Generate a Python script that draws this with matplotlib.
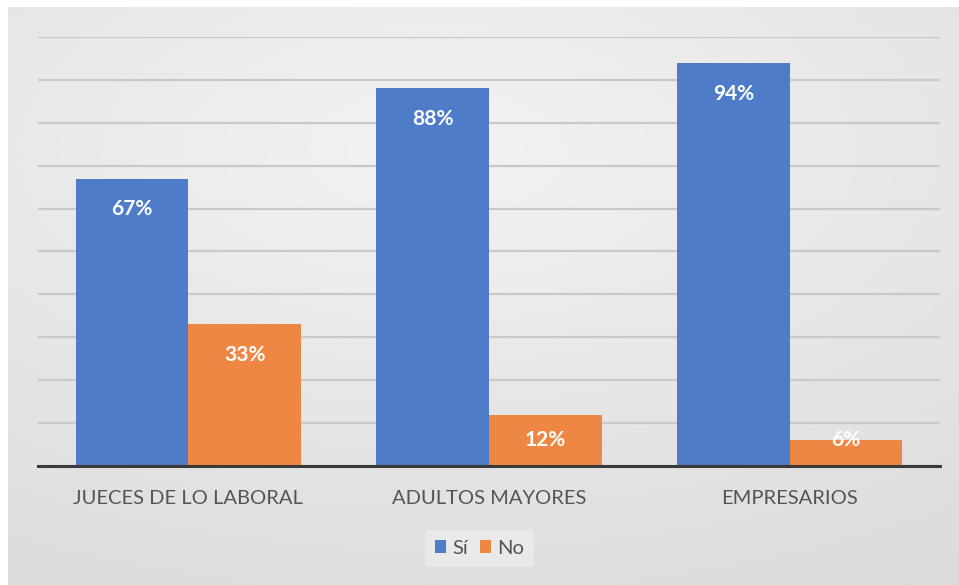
import numpy as np
import matplotlib
matplotlib.use("Agg")
import matplotlib.pyplot as plt

plt.rcParams['font.family'] = ['Lato', 'DejaVu Sans']

# data
categories = ["JUECES DE LO LABORAL", "ADULTOS MAYORES", "EMPRESARIOS"]
si_values = [67, 88, 94]
no_values = [33, 12, 6]
series_names = ["Sí", "No"]

blue = "#4f7cc9"
orange = "#ee8743"

fig = plt.figure(figsize=(9.59, 5.85), dpi=100)
fig.patch.set_facecolor("white")

# soft gray backdrop like the screenshot
bg = fig.add_axes([0.008, 0.0, 0.992, 0.988])
yy, xx = np.mgrid[0:1:200j, 0:1:300j]
shade = 0.95 - 0.09 * np.sqrt(((xx - 0.45) * 1.0) ** 2 + ((yy - 0.25) * 1.2) ** 2)
bg.imshow(shade, cmap="gray", vmin=0, vmax=1, aspect="auto", extent=[0, 1, 0, 1])
bg.axis("off")

ax = fig.add_axes([0.0396, 0.2034, 0.9406, 0.7334])
ax.patch.set_alpha(0)

x = np.arange(len(categories))
w = 0.375
b1 = ax.bar(x - w / 2, si_values, w, color=blue, label=series_names[0], zorder=3)
b2 = ax.bar(x + w / 2, no_values, w, color=orange, label=series_names[1], zorder=3)

ax.set_xlim(-0.5, len(categories) - 0.5)
ax.set_ylim(0, 100)
ax.set_yticks(np.arange(0, 101, 10))
ax.yaxis.grid(True, color="#c9c9c9", linewidth=1.6, zorder=0)
ax.set_yticklabels([])
ax.tick_params(axis="y", length=0)
ax.tick_params(axis="x", length=0, pad=17, labelsize=14.5, labelcolor="#555555")
ax.set_xticks(x)
ax.set_xticklabels(categories)
for s in ["top", "right", "left"]:
    ax.spines[s].set_visible(False)
ax.spines["bottom"].set_color("#3a3a3a")
ax.spines["bottom"].set_linewidth(2.2)
ax.spines["bottom"].set_zorder(4)

for bars, vals in [(b1, si_values), (b2, no_values)]:
    for rect, v in zip(bars, vals):
        ypos = max(v - 7.2, 6.0)
        ax.text(rect.get_x() + rect.get_width() / 2, ypos, f"{v}%",
                ha="center", va="center", color="white", fontsize=15,
                fontweight="bold", zorder=5)

leg = fig.legend(loc="center", bbox_to_anchor=(0.5, 0.063), ncol=2,
                 frameon=True, fontsize=14.5, handlelength=0.55, handleheight=0.55,
                 handletextpad=0.3, columnspacing=0.6, borderpad=0.5)
leg.get_frame().set_facecolor("#ececec")
leg.get_frame().set_edgecolor("none")
for t in leg.get_texts():
    t.set_color("#555555")

fig.savefig("out.png", dpi=100)
